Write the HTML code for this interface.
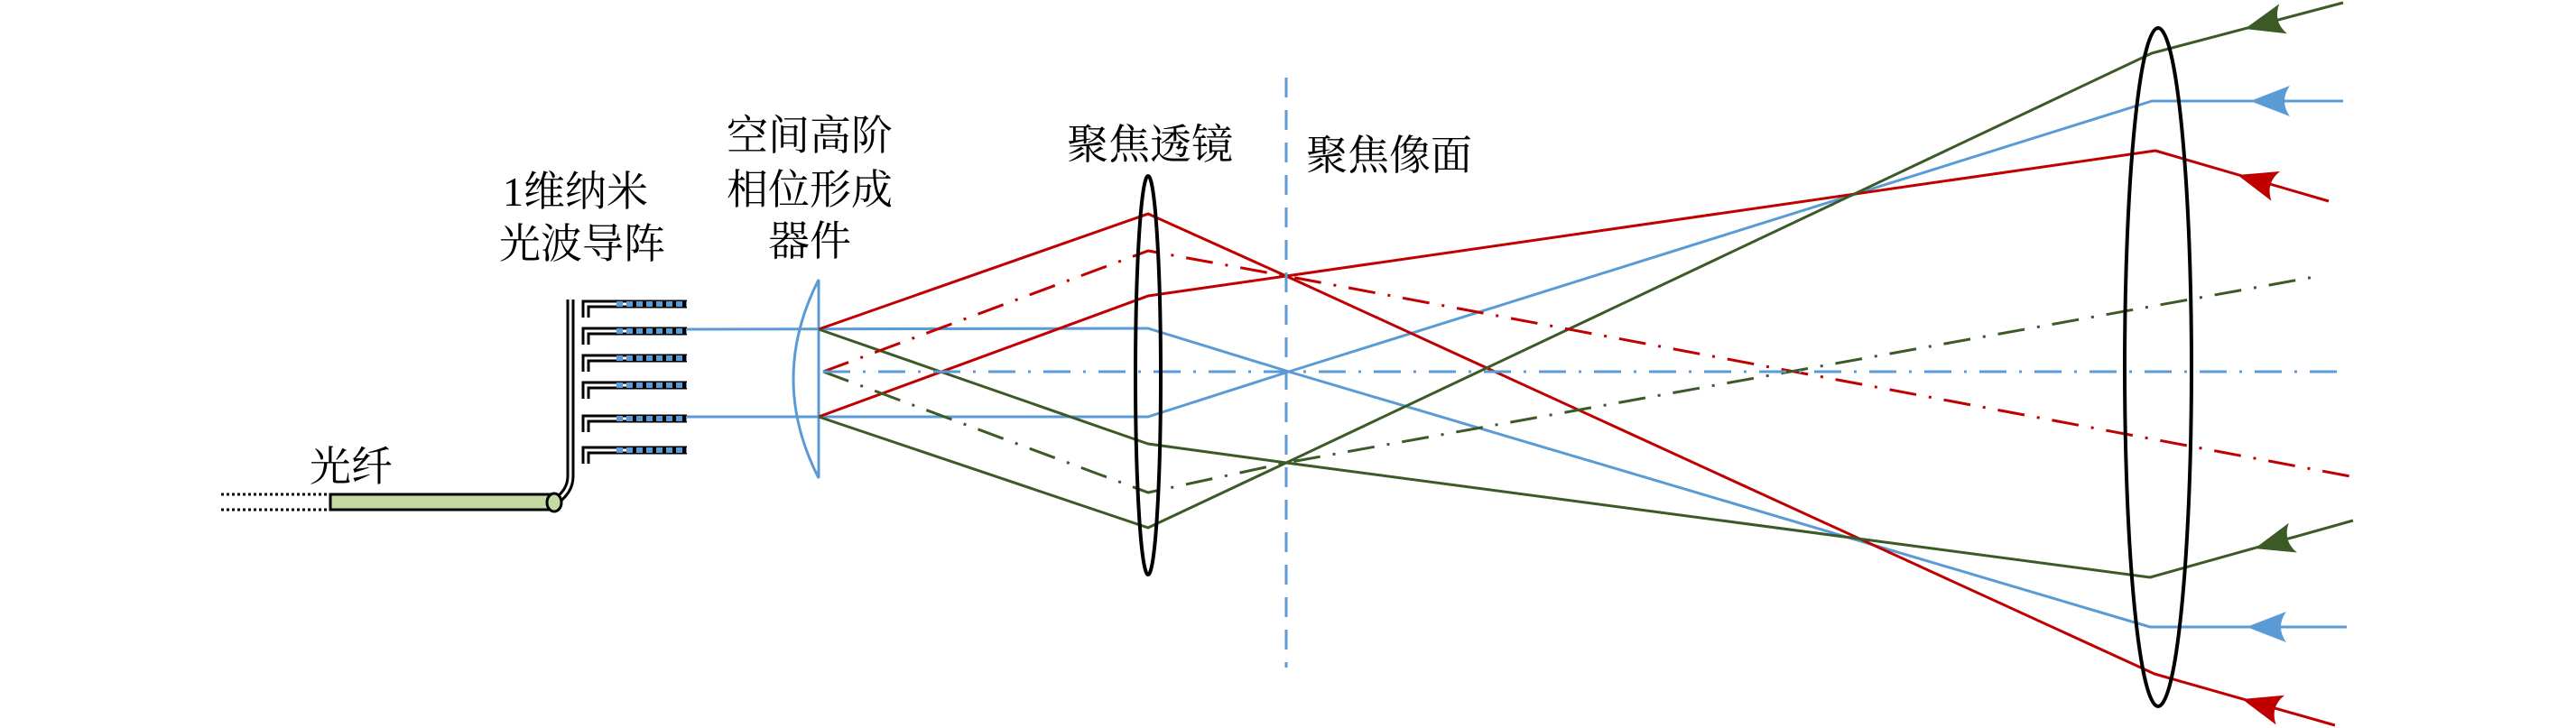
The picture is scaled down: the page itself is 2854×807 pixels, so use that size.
<!DOCTYPE html>
<html><head><meta charset="utf-8"><style>
html,body{margin:0;padding:0;background:#fff;}
svg{display:block;}
text{font-family:"Liberation Serif","Noto Serif CJK SC","Noto Sans CJK SC",serif;font-size:46px;fill:#000;}
</style></head><body>
<svg width="2854" height="807" viewBox="0 0 2854 807" xmlns="http://www.w3.org/2000/svg">
<defs>
<path id="ah" d="M0,0 L44,-17 Q32,0 44,17 Z"/>
</defs>
<text x="343" y="533">光纤</text>
<text x="557" y="228">1维纳米</text>
<text x="553" y="286">光波导阵</text>
<text x="805" y="166">空间高阶</text>
<text x="805" y="226">相位形成</text>
<text x="851" y="283">器件</text>
<text x="1182" y="176">聚焦透镜</text>
<text x="1447" y="188">聚焦像面</text>

<line x1="245" y1="548" x2="366" y2="548" stroke="#000" stroke-width="3" stroke-dasharray="3 3"/>
<line x1="245" y1="565" x2="366" y2="565" stroke="#000" stroke-width="3" stroke-dasharray="3 3"/>
<rect x="366" y="548" width="248" height="17" fill="#c5d9a5" stroke="#000" stroke-width="3"/>
<path d="M632,332 L632,528 Q632,545 614,557" fill="none" stroke="#000" stroke-width="9"/>
<path d="M632,332 L632,528 Q632,545 614,557" fill="none" stroke="#fff" stroke-width="3"/>
<ellipse cx="614" cy="557" rx="8" ry="10" fill="#c5d9a5" stroke="#000" stroke-width="3"/>
<g fill="none">
<g stroke="#000" stroke-width="9">
<path d="M649,352 L649,337 L761,337"/><path d="M649,382 L649,367 L761,367"/><path d="M649,412 L649,397 L761,397"/>
<path d="M649,442 L649,427 L761,427"/><path d="M649,479 L649,464 L761,464"/><path d="M649,514 L649,499 L761,499"/>
</g>
<g stroke="#fff" stroke-width="3">
<path d="M649,354 L649,337 L700,337"/><path d="M649,384 L649,367 L700,367"/><path d="M649,414 L649,397 L700,397"/>
<path d="M649,444 L649,427 L700,427"/><path d="M649,481 L649,464 L700,464"/><path d="M649,516 L649,499 L700,499"/>
</g>
<g stroke="#5b9bd5" stroke-width="6" stroke-dasharray="7 4">
<path d="M683,337 L761,337"/><path d="M683,367 L761,367"/><path d="M683,397 L761,397"/>
<path d="M683,427 L761,427"/><path d="M683,464 L761,464"/><path d="M683,499 L761,499"/>
</g>
</g>

<path d="M907,310 Q851,420 907,530 Z" fill="none" stroke="#5b9bd5" stroke-width="3"/>

<g fill="none" stroke-width="3" stroke-linejoin="round">
<polyline stroke="#5b9bd5" points="761,365 1272,364 1428,412 2382,695 2600,695"/>
<polyline stroke="#5b9bd5" points="761,462 1272,462 1428,412 2384,112 2596,112"/>
<polyline stroke="#c00000" points="907,365 1272,237 1425,306 2387,747 2587,804"/>
<polyline stroke="#c00000" points="907,462 1272,328 1425,306 2388,167 2580,223"/>
<polyline stroke="#3b5a26" points="907,365 1272,492 1425,513 2382,640 2607,577"/>
<polyline stroke="#3b5a26" points="907,462 1272,585 1425,513 2384,59 2596,3"/>
<polyline stroke="#c00000" stroke-dasharray="30 14 3 14" points="912,412 1272,278 1425,306 2604,528"/>
<polyline stroke="#3b5a26" stroke-dasharray="30 14 3 14" points="912,412 1272,546 1425,513 2564,307"/>
<line stroke="#5b9bd5" stroke-dasharray="30 14 3 14" x1="912" y1="412" x2="2596" y2="412"/>
<line stroke="#5b9bd5" stroke-dasharray="22 14" x1="1425" y1="86" x2="1425" y2="740"/>
</g>

<ellipse cx="1272" cy="416" rx="14" ry="221" fill="none" stroke="#000" stroke-width="4"/>
<ellipse cx="2391" cy="407" rx="37" ry="376" fill="none" stroke="#000" stroke-width="4"/>

<use href="#ah" fill="#3b5a26" transform="translate(2487,32) rotate(-14.8)"/>
<use href="#ah" fill="#5b9bd5" transform="translate(2493,112)"/>
<use href="#ah" fill="#c00000" transform="translate(2479,194) rotate(16.3)"/>
<use href="#ah" fill="#3b5a26" transform="translate(2498,608) rotate(-15.6)"/>
<use href="#ah" fill="#5b9bd5" transform="translate(2489,695)"/>
<use href="#ah" fill="#c00000" transform="translate(2484,775) rotate(15.9)"/>
</svg>
</body></html>
